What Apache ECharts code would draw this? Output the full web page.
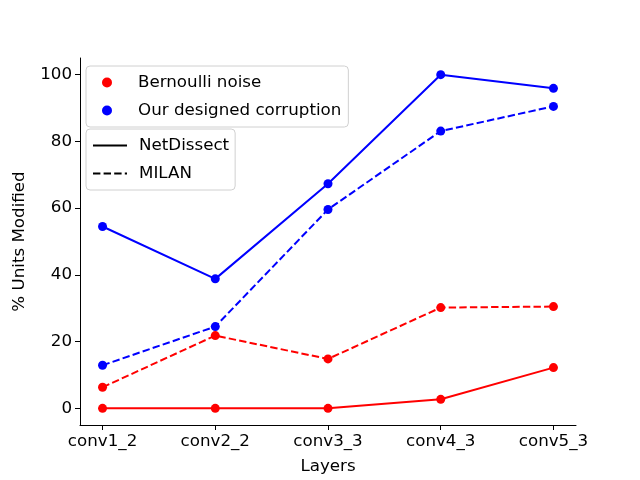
<!DOCTYPE html>
<html><head><meta charset="utf-8">
<script src="https://cdn.jsdelivr.net/npm/echarts@6/dist/echarts.min.js"></script>
<style>html,body{margin:0;padding:0;background:#fff}#c{width:640px;height:480px}</style>
</head><body><div id="c"></div>
<script>
const categories = ['conv1_2','conv2_2','conv3_3','conv4_3','conv5_3'];
const yTicks = [0,20,40,60,80,100];
const oursNetDissect = [54.5, 38.8, 67.3, 100, 95.9];
const oursMilan = [12.9, 24.5, 59.6, 83.1, 90.5];
const bernNetDissect = [0, 0, 0, 2.7, 12.2];
const bernMilan = [6.3, 21.8, 14.8, 30.2, 30.5];

const FONT = 'DejaVu Sans';
const FS = 16.7;
const toXY = arr => arr.map((v,i)=>[i,v]);
const RED = '#ff0000', BLUE = '#0000ff';
const DASH = [7.4,3.2];

function dataSeries(name, arr, color, dashed){
  return {name, type:'line', data:toXY(arr), symbol:'circle', symbolSize:9,
    lineStyle:{color, width:2, type: dashed?DASH:'solid'}, itemStyle:{color},
    animation:false, z:3};
}
const chart = echarts.init(document.getElementById('c'));
chart.setOption({
  animation:false,
  textStyle:{fontFamily:FONT},
  grid:{left:80,right:64,top:58,bottom:53},
  xAxis:{type:'value',min:-0.2,max:4.2,
    name:'Layers',nameLocation:'middle',nameGap:33,nameTextStyle:{color:'#000',fontSize:FS,fontFamily:FONT},
    axisLine:{onZero:false,lineStyle:{color:'#000',width:1}},
    axisTick:{show:true,length:5,lineStyle:{color:'#000'},customValues:[0,1,2,3,4]},
    axisLabel:{color:'#000',fontSize:FS,fontFamily:FONT,margin:8,customValues:[0,1,2,3,4],
      formatter:v=>categories[Math.round(v)]},
    splitLine:{show:false}},
  yAxis:{type:'value',min:-5,max:105,
    name:'% Units Modified',nameLocation:'middle',nameGap:52,nameRotate:90,nameTextStyle:{color:'#000',fontSize:FS,fontFamily:FONT},
    axisLine:{show:true,onZero:false,lineStyle:{color:'#000',width:1}},
    axisTick:{show:true,length:5,lineStyle:{color:'#000'},customValues:yTicks},
    axisLabel:{color:'#000',fontSize:FS,fontFamily:FONT,margin:8,customValues:yTicks},
    splitLine:{show:false}},
  legend:[
    {data:[{name:'Bernoulli noise',icon:'circle'},{name:'Our designed corruption',icon:'circle'}],
      orient:'vertical',left:86,top:66,itemWidth:10,itemHeight:10,itemGap:11,padding:[8,7,8,16],
      backgroundColor:'rgba(255,255,255,0.8)',borderColor:'#d0d0d0',borderWidth:1,borderRadius:4,
      textStyle:{fontSize:FS,fontFamily:FONT,color:'#000',padding:[0,0,0,21]}, selectedMode:false},
    {data:[{name:'NetDissect',itemStyle:{opacity:0}},{name:'MILAN',itemStyle:{opacity:0}}],
      orient:'vertical',left:86,top:129,itemWidth:34,itemHeight:10,itemGap:11,padding:[8,6,8,6],
      backgroundColor:'rgba(255,255,255,0.8)',borderColor:'#d0d0d0',borderWidth:1,borderRadius:4,
      textStyle:{fontSize:FS,fontFamily:FONT,color:'#000',padding:[0,0,0,7]}, selectedMode:false}
  ],
  series:[
    dataSeries('s1',oursNetDissect,BLUE,false),
    dataSeries('s2',oursMilan,BLUE,true),
    dataSeries('s3',bernNetDissect,RED,false),
    dataSeries('s4',bernMilan,RED,true),
    {name:'Bernoulli noise',type:'scatter',data:[],itemStyle:{color:RED,opacity:1}},
    {name:'Our designed corruption',type:'scatter',data:[],itemStyle:{color:BLUE,opacity:1}},
    {name:'NetDissect',type:'line',data:[],symbol:'none',lineStyle:{color:'#000',width:2,type:'solid'},itemStyle:{color:'#000'}},
    {name:'MILAN',type:'line',data:[],symbol:'none',lineStyle:{color:'#000',width:2,type:DASH},itemStyle:{color:'#000'}}
  ]
});
</script></body></html>
